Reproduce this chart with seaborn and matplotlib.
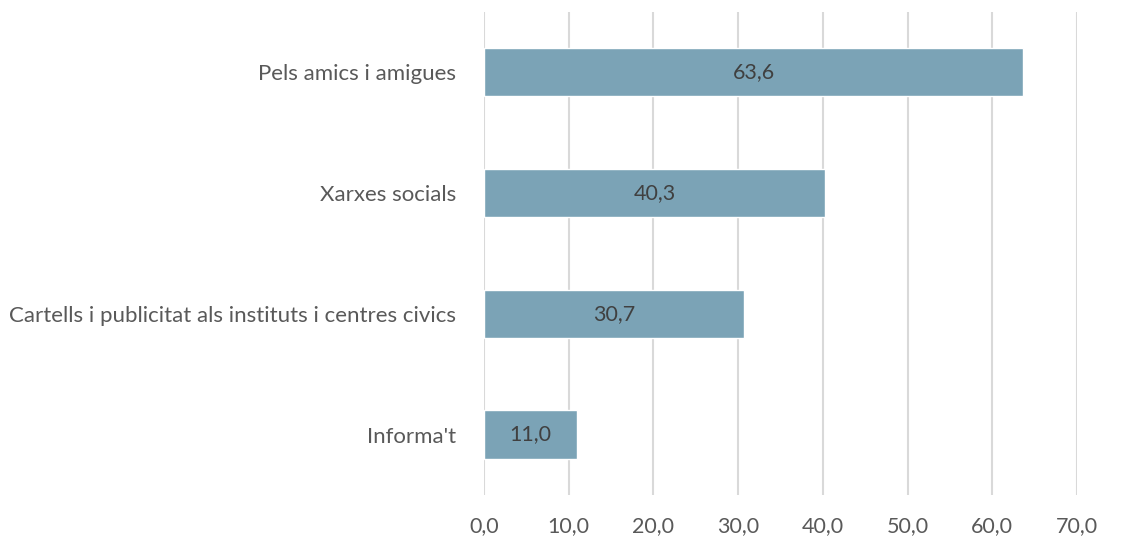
import matplotlib
matplotlib.use('Agg')
import matplotlib.pyplot as plt
import pandas as pd
import seaborn as sns

categories = ['Pels amics i amigues', 'Xarxes socials',
              'Cartells i publicitat als instituts i centres civics', "Informa't"]
values = [63.6, 40.3, 30.7, 11.0]
x_ticks = [0, 10, 20, 30, 40, 50, 60, 70]

bar_color = '#7BA3B6'
text_color = '#595959'

sns.set_theme(style='white')
plt.rcParams['font.family'] = ['Lato', 'DejaVu Sans']

df = pd.DataFrame({'category': categories, 'value': values})

fig = plt.figure(figsize=(11.21, 5.45), dpi=100)
ax = fig.add_axes([0.4318, 0.092, 0.529, 0.886])

sns.barplot(data=df, x='value', y='category', orient='h', color=bar_color,
            width=0.4, saturation=1, ax=ax)

for patch, v in zip(ax.patches, values):
    ax.text(patch.get_x() + patch.get_width() / 2, patch.get_y() + patch.get_height() / 2,
            f'{v:.1f}'.replace('.', ','), ha='center', va='center',
            fontsize=15.5, color='#404040')

ax.set_xlim(0, 70)
ax.set_ylim(3.5, -0.5)
ax.set_xticks(x_ticks)
ax.set_xticklabels([f'{t:.1f}'.replace('.', ',') for t in x_ticks])
ax.xaxis.grid(True, color='#D9D9D9', linewidth=1.5)
ax.set_axisbelow(True)
for s in ax.spines.values():
    s.set_visible(False)
ax.set_xlabel('')
ax.set_ylabel('')
ax.tick_params(axis='x', length=0, pad=15, labelsize=15.5, labelcolor=text_color)
ax.tick_params(axis='y', length=0, pad=20, labelsize=16, labelcolor=text_color)

fig.savefig('out.png', dpi=100)
